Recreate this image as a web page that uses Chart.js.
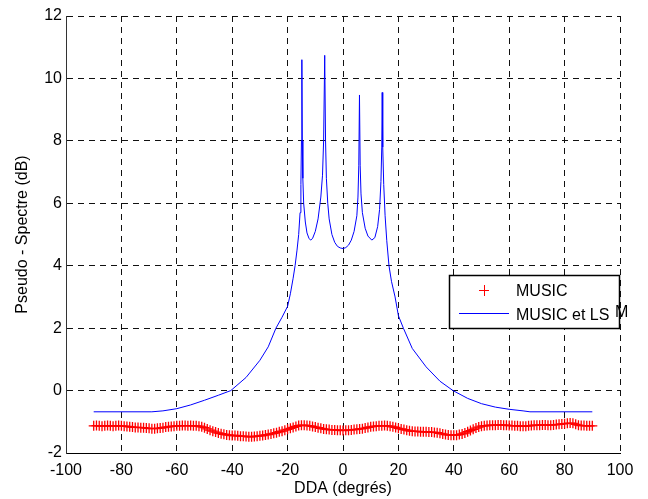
<!DOCTYPE html>
<html>
<head>
<meta charset="utf-8">
<script src="https://cdn.jsdelivr.net/npm/chart.js@4/dist/chart.umd.min.js"></script>
<style>
  html, body { margin: 0; padding: 0; background: #fff; }
  canvas { display: block; }
</style>
</head>
<body>
<canvas id="spectre" width="648" height="499"></canvas>
<script>
// DDA grid (degrés) for the MUSIC estimate
var anglesMusic = [
  -90,-89,-88,-87,-86,-85,-84,-83,-82,-81,
  -80,-79,-78,-77,-76,-75,-74,-73,-72,-71,
  -70,-69,-68,-67,-66,-65,-64,-63,-62,-61,
  -60,-59,-58,-57,-56,-55,-54,-53,-52,-51,
  -50,-49,-48,-47,-46,-45,-44,-43,-42,-41,
  -40,-39,-38,-37,-36,-35,-34,-33,-32,-31,
  -30,-29,-28,-27,-26,-25,-24,-23,-22,-21,
  -20,-19,-18,-17,-16,-15,-14,-13,-12,-11,
  -10,-9,-8,-7,-6,-5,-4,-3,-2,-1,
  0,1,2,3,4,5,6,7,8,9,
  10,11,12,13,14,15,16,17,18,19,
  20,21,22,23,24,25,26,27,28,29,
  30,31,32,33,34,35,36,37,38,39,
  40,41,42,43,44,45,46,47,48,49,
  50,51,52,53,54,55,56,57,58,59,
  60,61,62,63,64,65,66,67,68,69,
  70,71,72,73,74,75,76,77,78,79,
  80,81,82,83,84,85,86,87,88,89,
  90
];
var spectreMusic = [
  -1.13,-1.12,-1.13,-1.14,-1.13,-1.12,-1.13,-1.14,-1.13,-1.12,
  -1.13,-1.14,-1.15,-1.16,-1.17,-1.18,-1.18,-1.19,-1.19,-1.20,
  -1.21,-1.22,-1.22,-1.21,-1.20,-1.19,-1.17,-1.16,-1.15,-1.14,
  -1.13,-1.13,-1.12,-1.12,-1.13,-1.12,-1.13,-1.13,-1.14,-1.16,
  -1.19,-1.23,-1.27,-1.30,-1.33,-1.36,-1.38,-1.40,-1.42,-1.43,
  -1.44,-1.44,-1.45,-1.46,-1.46,-1.47,-1.48,-1.48,-1.47,-1.46,
  -1.45,-1.44,-1.42,-1.41,-1.39,-1.37,-1.35,-1.32,-1.30,-1.27,
  -1.24,-1.21,-1.18,-1.15,-1.12,-1.11,-1.11,-1.12,-1.13,-1.15,
  -1.17,-1.19,-1.21,-1.23,-1.24,-1.25,-1.26,-1.26,-1.27,-1.27,
  -1.28,-1.27,-1.27,-1.26,-1.25,-1.24,-1.23,-1.22,-1.20,-1.18,
  -1.16,-1.15,-1.14,-1.13,-1.13,-1.12,-1.13,-1.14,-1.16,-1.18,
  -1.21,-1.23,-1.25,-1.27,-1.29,-1.30,-1.31,-1.31,-1.32,-1.32,
  -1.32,-1.33,-1.33,-1.34,-1.35,-1.37,-1.39,-1.41,-1.42,-1.43,
  -1.43,-1.43,-1.41,-1.39,-1.36,-1.32,-1.28,-1.24,-1.20,-1.17,
  -1.14,-1.13,-1.12,-1.11,-1.11,-1.11,-1.10,-1.10,-1.11,-1.11,
  -1.12,-1.12,-1.13,-1.13,-1.14,-1.14,-1.14,-1.13,-1.12,-1.11,
  -1.11,-1.11,-1.10,-1.10,-1.11,-1.11,-1.10,-1.09,-1.08,-1.07,
  -1.06,-1.05,-1.04,-1.05,-1.08,-1.11,-1.12,-1.12,-1.13,-1.13,
  -1.13
];

// MUSIC et LS^M : finer sampling around the four peaks
var anglesLs = [
  -90, -69, -65, -60, -55, -50, -45, -40.5, -35, -30,
  -27, -24.2, -22, -20, -19, -18, -17.3, -16.6, -16, -15.5,
  -15.2, -15.0, -14.85, -14.7, -14.5, -14.2, -13.6, -13, -12.3, -11.7,
  -11, -10, -9, -8, -7.4, -7.0, -6.6, -6.3, -6.0, -5.5,
  -5, -4, -3, -2, -1, 0, 1, 2, 3, 4,
  5, 5.4, 5.7, 5.95, 6.2, 6.5, 7, 8, 9, 10.4,
  11.5, 12.5, 13.2, 13.7, 14.0, 14.15, 14.35, 14.7, 15.2, 15.8,
  16.6, 17.5, 18.8, 20, 21.8, 25, 30, 35, 39.7, 45,
  50, 55, 60, 65, 67.5, 90
];
var spectreLs = [
  -0.68, -0.68, -0.65, -0.58, -0.46, -0.31, -0.15, 0, 0.42, 0.97,
  1.4, 2.0, 2.35, 2.7, 3.1, 3.6, 4.0, 4.5, 5.0, 5.7,
  6.6, 8.0, 10.6, 8.0, 6.8, 6.0, 5.4, 5.05, 4.88, 4.82,
  4.87, 5.1, 5.5, 6.2, 6.9, 8.0, 10.74, 8.0, 6.8, 6.0,
  5.5, 5.0, 4.75, 4.62, 4.57, 4.55, 4.58, 4.66, 4.82, 5.1,
  5.6, 6.2, 7.2, 9.47, 7.2, 6.3, 5.7, 5.2, 4.95, 4.82,
  4.9, 5.25, 5.8, 6.7, 7.8, 9.55, 7.8, 6.6, 5.6, 4.8,
  4.0, 3.5, 3.0, 2.4, 2.0, 1.35, 0.76, 0.3, 0, -0.25,
  -0.42, -0.53, -0.6, -0.65, -0.68, -0.68
];

var xTicks = [-100, -80, -60, -40, -20, 0, 20, 40, 60, 80, 100];
var yTicks = [-2, 0, 2, 4, 6, 8, 10, 12];
var seriesNames = ['MUSIC', 'MUSIC et LS', 'M'];

function points(xs, ys) {
  return xs.map(function (x, i) { return { x: x, y: ys[i] }; });
}

var FONT = 'Liberation Sans, Arial, Helvetica, sans-serif';
Chart.defaults.font.family = FONT;
Chart.defaults.font.size = 16;
Chart.defaults.color = '#000';

// boxed legend drawn inside the plot, like the MATLAB one
var boxLegend = {
  id: 'boxLegend',
  afterDatasetsDraw: function (chart) {
    var ctx = chart.ctx;
    ctx.save();
    ctx.fillStyle = '#fff';
    ctx.fillRect(449, 275, 171, 54);
    ctx.strokeStyle = '#000';
    ctx.lineWidth = 1.5;
    ctx.strokeRect(449.5, 275.5, 170, 53);

    // red cross
    ctx.strokeStyle = '#ff0000';
    ctx.lineWidth = 1;
    ctx.beginPath();
    ctx.moveTo(479, 290.5); ctx.lineTo(489, 290.5);
    ctx.moveTo(484.5, 285); ctx.lineTo(484.5, 296);
    ctx.stroke();

    // blue line
    ctx.strokeStyle = '#0000ff';
    ctx.beginPath();
    ctx.moveTo(459, 313.5); ctx.lineTo(509, 313.5);
    ctx.stroke();

    ctx.fillStyle = '#000';
    ctx.font = '16px ' + FONT;
    ctx.textBaseline = 'alphabetic';
    ctx.fillText(seriesNames[0], 516, 296);
    ctx.fillText(seriesNames[1], 516, 320);
    ctx.fillText(seriesNames[2], 615, 317);
    ctx.restore();
  }
};

new Chart(document.getElementById('spectre').getContext('2d'), {
  type: 'line',
  data: {
    datasets: [{
      label: seriesNames[0],
      data: points(anglesMusic, spectreMusic),
      showLine: false,
      pointStyle: 'cross',
      pointRadius: 5,
      pointBorderWidth: 1.3,
      pointBorderColor: '#ff0000',
      pointBackgroundColor: '#ff0000'
    }, {
      label: seriesNames[1] + seriesNames[2],
      data: points(anglesLs, spectreLs),
      borderColor: '#0000ff',
      borderWidth: 1,
      pointRadius: 0,
      tension: 0,
      fill: false
    }]
  },
  options: {
    responsive: false,
    animation: false,
    layout: { padding: { top: 16, right: 28, left: 0, bottom: 0 } },
    plugins: {
      legend: { display: false },
      tooltip: { enabled: false }
    },
    scales: {
      x: {
        type: 'linear',
        min: -100,
        max: 100,
        afterBuildTicks: function (s) { s.ticks = xTicks.map(function (v) { return { value: v }; }); },
        afterFit: function (s) { s.height = 46; },
        ticks: { padding: 8, maxRotation: 0, autoSkip: false },
        grid: { color: '#111', lineWidth: 1, drawTicks: false },
        border: { display: true, color: '#000', width: 1, dash: [6, 5] },
        title: { display: true, text: 'DDA (degrés)', padding: { top: 0, bottom: 1 } }
      },
      y: {
        type: 'linear',
        min: -2,
        max: 12,
        afterBuildTicks: function (s) { s.ticks = yTicks.map(function (v) { return { value: v }; }); },
        afterFit: function (s) { s.width = 66; },
        ticks: { padding: 4, autoSkip: false },
        grid: { color: '#111', lineWidth: 1, drawTicks: false },
        border: { display: true, color: '#333', width: 1, dash: [6, 5] },
        title: { display: true, text: 'Pseudo - Spectre (dB)', padding: { top: 13, bottom: 0 } }
      }
    }
  },
  plugins: [boxLegend]
});
</script>
</body>
</html>
